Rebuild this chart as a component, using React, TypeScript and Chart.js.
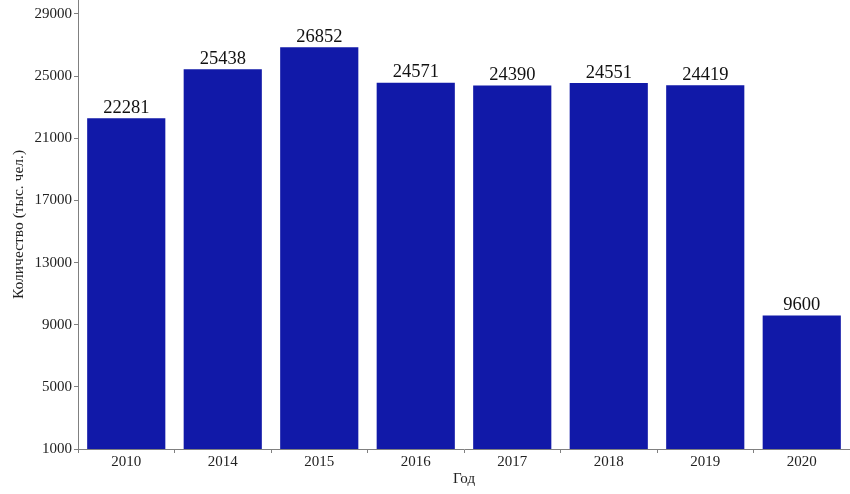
import React, { useEffect, useRef } from "react";
import { Chart, registerables } from "chart.js";

Chart.register(...registerables);

const years = ["2010", "2014", "2015", "2016", "2017", "2018", "2019", "2020"];
const values = [22281, 25438, 26852, 24571, 24390, 24551, 24419, 9600];
const yTicks = [1000, 5000, 9000, 13000, 17000, 21000, 25000, 29000];

const FONT = "'Liberation Serif', 'Times New Roman', serif";

const labelPlugin = {
  id: "valueLabels",
  afterDatasetsDraw(chart: any) {
    const ctx = chart.ctx;
    const meta = chart.getDatasetMeta(0);
    ctx.save();
    ctx.font = `18.5px ${FONT}`;
    ctx.fillStyle = "#111";
    ctx.textAlign = "center";
    ctx.textBaseline = "bottom";
    meta.data.forEach((bar: any, i: number) => {
      ctx.fillText(String(values[i]), bar.x, bar.y - 1);
    });
    ctx.restore();
  },
};

export default function App() {
  const ref = useRef<HTMLCanvasElement>(null);
  useEffect(() => {
    const chart = new Chart(ref.current!, {
      type: "bar",
      data: {
        labels: years,
        datasets: [
          {
            data: values,
            backgroundColor: "#1119a8",
            borderWidth: 0,
            categoryPercentage: 1,
            barPercentage: 0.81,
          },
        ],
      },
      plugins: [labelPlugin],
      options: {
        animation: false,
        responsive: false,
        layout: { padding: 0 },
        plugins: { legend: { display: false }, tooltip: { enabled: false } },
        scales: {
          x: {
            grid: { drawOnChartArea: false, tickLength: 4, color: "#808080" },
            border: { color: "#808080" },
            ticks: { font: { family: FONT, size: 15 }, color: "#222", padding: 0 },
            title: {
              display: true,
              text: "Год",
              font: { family: FONT, size: 15 },
              color: "#222",
              padding: { top: 0, bottom: 6 },
            },
            afterFit(scale: any) {
              scale.height = 45;
            },
          },
          y: {
            min: 1000,
            max: 29900,
            grid: { drawOnChartArea: false, tickLength: 4, color: "#808080" },
            border: { color: "#808080" },
            ticks: {
              font: { family: FONT, size: 15 },
              color: "#222",
              padding: 2,
              callback: (v: any) => String(v),
            },
            afterBuildTicks(scale: any) {
              scale.ticks = yTicks.map((v) => ({ value: v }));
            },
            title: {
              display: true,
              text: "Количество (тыс. чел.)",
              font: { family: FONT, size: 15.5 },
              color: "#222",
              padding: { top: 10, bottom: 0 },
            },
            afterFit(scale: any) {
              scale.width = 78;
              scale.paddingTop = 0;
              scale.paddingBottom = 0;
            },
          },
        },
      },
    });
    return () => chart.destroy();
  }, []);
  return (
    <div style={{ position: "fixed", left: 0, top: 0, width: 850, height: 494, background: "#fff" }}>
      <canvas ref={ref} width={850} height={494} style={{ width: 850, height: 494, display: "block" }} />
    </div>
  );
}
